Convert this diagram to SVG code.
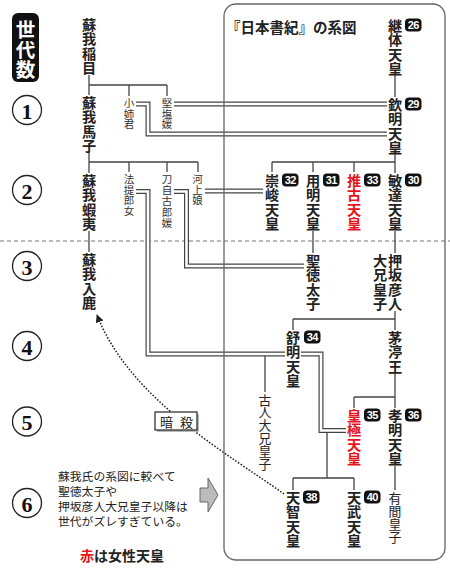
<svg xmlns="http://www.w3.org/2000/svg" width="450" height="570" viewBox="0 0 450 570">
<style>
text{font-family:"Noto Sans CJK JP","Noto Sans",sans-serif;fill:#222}
.n{font-size:14.2px;font-weight:700;text-anchor:middle;dominant-baseline:central}
.m{font-size:12.8px;font-weight:400;text-anchor:middle;dominant-baseline:central}
.s{font-size:10.5px;font-weight:400;text-anchor:middle;dominant-baseline:central;fill:#333}
.r{fill:#e8141c}
.b rect{fill:#111}
.b text{font-family:"Liberation Sans",Arial,sans-serif;font-size:11px;font-weight:700;fill:#fff;text-anchor:middle;dominant-baseline:central;letter-spacing:-0.6px}
.ln{fill:none;stroke:#444;stroke-width:1.3}
.d1{fill:none;stroke:#444;stroke-width:5}
.d2{fill:none;stroke:#fff;stroke-width:2.6}
.gen circle{fill:#fff;stroke:#222;stroke-width:1.3}
.gen text{font-family:"Liberation Serif","Times New Roman",serif;font-weight:700;font-size:22px;text-anchor:middle;dominant-baseline:central;fill:#111}
.note{font-size:11.8px;fill:#222}
</style>
<defs>
<marker id="ah" viewBox="0 0 10 10" refX="9" refY="5" markerWidth="8" markerHeight="8" markerUnits="userSpaceOnUse" orient="auto">
<path d="M0,0 L10,5 L0,10 Z" fill="#222"/>
</marker>
</defs>

<line x1="0" y1="241" x2="450" y2="241" stroke="#777" stroke-width="1.2" stroke-dasharray="4,3"/>

<g id="generation-label">
<rect x="12" y="13" width="27" height="69" rx="6" fill="#111"/>
<text font-size="19.5" font-weight="700" text-anchor="middle" dominant-baseline="central" style="fill:#fff"><tspan x="25.5" y="28">世</tspan><tspan x="25.5" y="48">代</tspan><tspan x="25.5" y="68">数</tspan></text>
</g>

<g id="generations" class="gen">
<circle cx="27" cy="110" r="14.5"/><text x="27" y="111">1</text>
<circle cx="27" cy="190" r="14.5"/><text x="27" y="191">2</text>
<circle cx="27" cy="266" r="14.5"/><text x="27" y="267">3</text>
<circle cx="27" cy="346" r="14.5"/><text x="27" y="347">4</text>
<circle cx="27" cy="421.5" r="14.5"/><text x="27" y="422.5">5</text>
<circle cx="27" cy="503" r="14.5"/><text x="27" y="504">6</text>
</g>

<g id="connectors">
<path class="ln" d="M89,75 V95 M89,85 H167 M129,85 V96 M167,85 V96"/>
<path class="ln" d="M89,152 V173 M89,162 H198 M129,162 V172 M167,162 V172 M198,162 V172"/>
<path class="ln" d="M89,231 V252"/>
<path class="ln" d="M395,75 V97 M395,153 V173 M272,162 H395 M272,162 V172 M313,162 V172 M354,162 V172"/>
<path class="ln" d="M313,231 V253 M395,231 V253"/>
<path class="ln" d="M395,311 V330 M293,319 H395 M293,319 V330"/>
<path class="ln" d="M395,372 V408 M354,397 H395 M354,397 V408"/>
<path class="ln" d="M395,466 V490"/>
<path class="ln" d="M327,432 V478 M293,478 H354 M293,478 V490 M354,478 V490"/>
<path class="ln" d="M265,356 V392"/>
<g id="marriages">
<path class="d1" d="M174,104 H387 M136,104 H148 V134 H387 M205,191 H263 M174,191.5 H186.5 V266 H304 M136,191.5 H148 V354 H285 M301,354 H321 V430.5 H346"/>
<path class="d2" d="M174,104 H387 M136,104 H148 V134 H387 M205,191 H263 M174,191.5 H186.5 V266 H304 M136,191.5 H148 V354 H285 M301,354 H321 V430.5 H346"/>
</g>
<path d="M284,494 C230,455 130,400 97,315" fill="none" stroke="#222" stroke-width="1.5" stroke-dasharray="1.6,1.6" marker-end="url(#ah)"/>
</g>

<rect id="shoki-frame" x="224" y="4" width="221" height="556" rx="12" fill="none" stroke="#666" stroke-width="1.3"/>
<text id="shoki-title" x="226" y="33" font-size="14.5" font-weight="700">『日本書紀』の系図</text>

<g id="soga-iname"><text class="n"><tspan x="89" y="24">蘇</tspan><tspan x="89" y="38.3">我</tspan><tspan x="89" y="52.6">稲</tspan><tspan x="89" y="66.9">目</tspan></text></g>
<g id="soga-umako"><text class="n"><tspan x="89" y="102">蘇</tspan><tspan x="89" y="116.3">我</tspan><tspan x="89" y="130.6">馬</tspan><tspan x="89" y="144.9">子</tspan></text></g>
<g id="soga-emishi"><text class="n"><tspan x="89" y="180">蘇</tspan><tspan x="89" y="194.3">我</tspan><tspan x="89" y="208.6">蝦</tspan><tspan x="89" y="222.9">夷</tspan></text></g>
<g id="soga-iruka"><text class="n"><tspan x="89" y="259">蘇</tspan><tspan x="89" y="273.3">我</tspan><tspan x="89" y="287.6">入</tspan><tspan x="89" y="301.9">鹿</tspan></text></g>

<g id="oanegimi"><text class="s"><tspan x="129" y="102">小</tspan><tspan x="129" y="112.5">姉</tspan><tspan x="129" y="123">君</tspan></text></g>
<g id="kitashihime"><text class="s"><tspan x="167" y="102">堅</tspan><tspan x="167" y="112.5">塩</tspan><tspan x="167" y="123">媛</tspan></text></g>
<g id="hotei-iratsume"><text class="s"><tspan x="129" y="178">法</tspan><tspan x="129" y="188.5">提</tspan><tspan x="129" y="199">郎</tspan><tspan x="129" y="209.5">女</tspan></text></g>
<g id="tojiko-iratsume"><text class="s"><tspan x="167" y="178">刀</tspan><tspan x="167" y="189">自</tspan><tspan x="167" y="200">古</tspan><tspan x="167" y="211">郎</tspan><tspan x="167" y="222">媛</tspan></text></g>
<g id="kawakami-iratsume"><text class="s"><tspan x="197.5" y="178">河</tspan><tspan x="197.5" y="188.5">上</tspan><tspan x="197.5" y="199">娘</tspan></text></g>

<g id="keitai"><text class="n"><tspan x="395" y="25">継</tspan><tspan x="395" y="39.3">体</tspan><tspan x="395" y="53.6">天</tspan><tspan x="395" y="67.9">皇</tspan></text>
<g class="b"><rect x="405" y="18.5" width="16.5" height="13" rx="4"/><text x="413.2" y="25.3">26</text></g></g>
<g id="kinmei"><text class="n"><tspan x="395" y="104">欽</tspan><tspan x="395" y="118.3">明</tspan><tspan x="395" y="132.6">天</tspan><tspan x="395" y="146.9">皇</tspan></text>
<g class="b"><rect x="405" y="97.5" width="16.5" height="13" rx="4"/><text x="413.2" y="104.3">29</text></g></g>
<g id="sushun"><text class="n"><tspan x="272" y="180">崇</tspan><tspan x="272" y="194.3">峻</tspan><tspan x="272" y="208.6">天</tspan><tspan x="272" y="222.9">皇</tspan></text>
<g class="b"><rect x="282" y="173.5" width="16.5" height="13" rx="4"/><text x="290.2" y="180.3">32</text></g></g>
<g id="yomei"><text class="n"><tspan x="313" y="180">用</tspan><tspan x="313" y="194.3">明</tspan><tspan x="313" y="208.6">天</tspan><tspan x="313" y="222.9">皇</tspan></text>
<g class="b"><rect x="323" y="173.5" width="16.5" height="13" rx="4"/><text x="331.2" y="180.3">31</text></g></g>
<g id="suiko"><text class="n r"><tspan x="354" y="180">推</tspan><tspan x="354" y="194.3">古</tspan><tspan x="354" y="208.6">天</tspan><tspan x="354" y="222.9">皇</tspan></text>
<g class="b"><rect x="364" y="173.5" width="16.5" height="13" rx="4"/><text x="372.2" y="180.3">33</text></g></g>
<g id="bidatsu"><text class="n"><tspan x="395" y="180">敏</tspan><tspan x="395" y="194.3">達</tspan><tspan x="395" y="208.6">天</tspan><tspan x="395" y="222.9">皇</tspan></text>
<g class="b"><rect x="405" y="173.5" width="16.5" height="13" rx="4"/><text x="413.2" y="180.3">30</text></g></g>
<g id="shotoku"><text class="n"><tspan x="313" y="260">聖</tspan><tspan x="313" y="274.3">徳</tspan><tspan x="313" y="288.6">太</tspan><tspan x="313" y="302.9">子</tspan></text></g>
<g id="oshisakanohikohito"><text class="n"><tspan x="395" y="260">押</tspan><tspan x="395" y="274.3">坂</tspan><tspan x="395" y="288.6">彦</tspan><tspan x="395" y="302.9">人</tspan></text><text class="n"><tspan x="380" y="260">大</tspan><tspan x="380" y="274.3">兄</tspan><tspan x="380" y="288.6">皇</tspan><tspan x="380" y="302.9">子</tspan></text></g>
<g id="jomei"><text class="n"><tspan x="293" y="337">舒</tspan><tspan x="293" y="351.3">明</tspan><tspan x="293" y="365.6">天</tspan><tspan x="293" y="379.9">皇</tspan></text>
<g class="b"><rect x="304" y="330.5" width="16.5" height="13" rx="4"/><text x="312.2" y="337.3">34</text></g></g>
<g id="chinu"><text class="n"><tspan x="395" y="337">茅</tspan><tspan x="395" y="351.3">渟</tspan><tspan x="395" y="365.6">王</tspan></text></g>
<g id="furuhito"><text class="m"><tspan x="265" y="398.5">古</tspan><tspan x="265" y="411.3">人</tspan><tspan x="265" y="424.1">大</tspan><tspan x="265" y="436.9">兄</tspan><tspan x="265" y="449.7">皇</tspan><tspan x="265" y="462.5">子</tspan></text></g>
<g id="kogyoku"><text class="n r"><tspan x="354" y="415">皇</tspan><tspan x="354" y="429.3">極</tspan><tspan x="354" y="443.6">天</tspan><tspan x="354" y="457.9">皇</tspan></text>
<g class="b"><rect x="364" y="408.5" width="16.5" height="13" rx="4"/><text x="372.2" y="415.3">35</text></g></g>
<g id="komei"><text class="n"><tspan x="395" y="415">孝</tspan><tspan x="395" y="429.3">明</tspan><tspan x="395" y="443.6">天</tspan><tspan x="395" y="457.9">皇</tspan></text>
<g class="b"><rect x="405" y="408.5" width="16.5" height="13" rx="4"/><text x="413.2" y="415.3">36</text></g></g>
<g id="arima"><text class="m"><tspan x="395" y="496.5">有</tspan><tspan x="395" y="509.5">間</tspan><tspan x="395" y="522.5">皇</tspan><tspan x="395" y="535.5">子</tspan></text></g>
<g id="tenji"><text class="n"><tspan x="293" y="497">天</tspan><tspan x="293" y="511.3">智</tspan><tspan x="293" y="525.6">天</tspan><tspan x="293" y="539.9">皇</tspan></text>
<g class="b"><rect x="303" y="490.5" width="16.5" height="13" rx="4"/><text x="311.2" y="497.3">38</text></g></g>
<g id="tenmu"><text class="n"><tspan x="354" y="497">天</tspan><tspan x="354" y="511.3">武</tspan><tspan x="354" y="525.6">天</tspan><tspan x="354" y="539.9">皇</tspan></text>
<g class="b"><rect x="364" y="490.5" width="16.5" height="13" rx="4"/><text x="372.2" y="497.3">40</text></g></g>

<g id="assassination-label">
<rect x="157" y="414" width="42" height="18" fill="#bbb"/>
<rect x="155" y="412" width="42" height="18" fill="#fff" stroke="#222" stroke-width="1.2"/>
<text x="166.5 186.5" y="421" font-size="13" text-anchor="middle" dominant-baseline="central">暗殺</text>
</g>

<g id="note">
<text class="note" x="58" y="481">蘇我氏の系図に較べて</text>
<text class="note" x="58" y="496">聖徳太子や</text>
<text class="note" x="58" y="511">押坂彦人大兄皇子以降は</text>
<text class="note" x="58" y="526">世代がズレすぎている。</text>
<path d="M200,488 H208 V478 L218,495 L208,512 V502 H200 Z" fill="#bbb" stroke="#666" stroke-width="1"/>
</g>

<g id="legend"><text x="80" y="561" font-size="14" font-weight="700"><tspan style="fill:#e8141c">赤</tspan>は女性天皇</text></g>
</svg>
